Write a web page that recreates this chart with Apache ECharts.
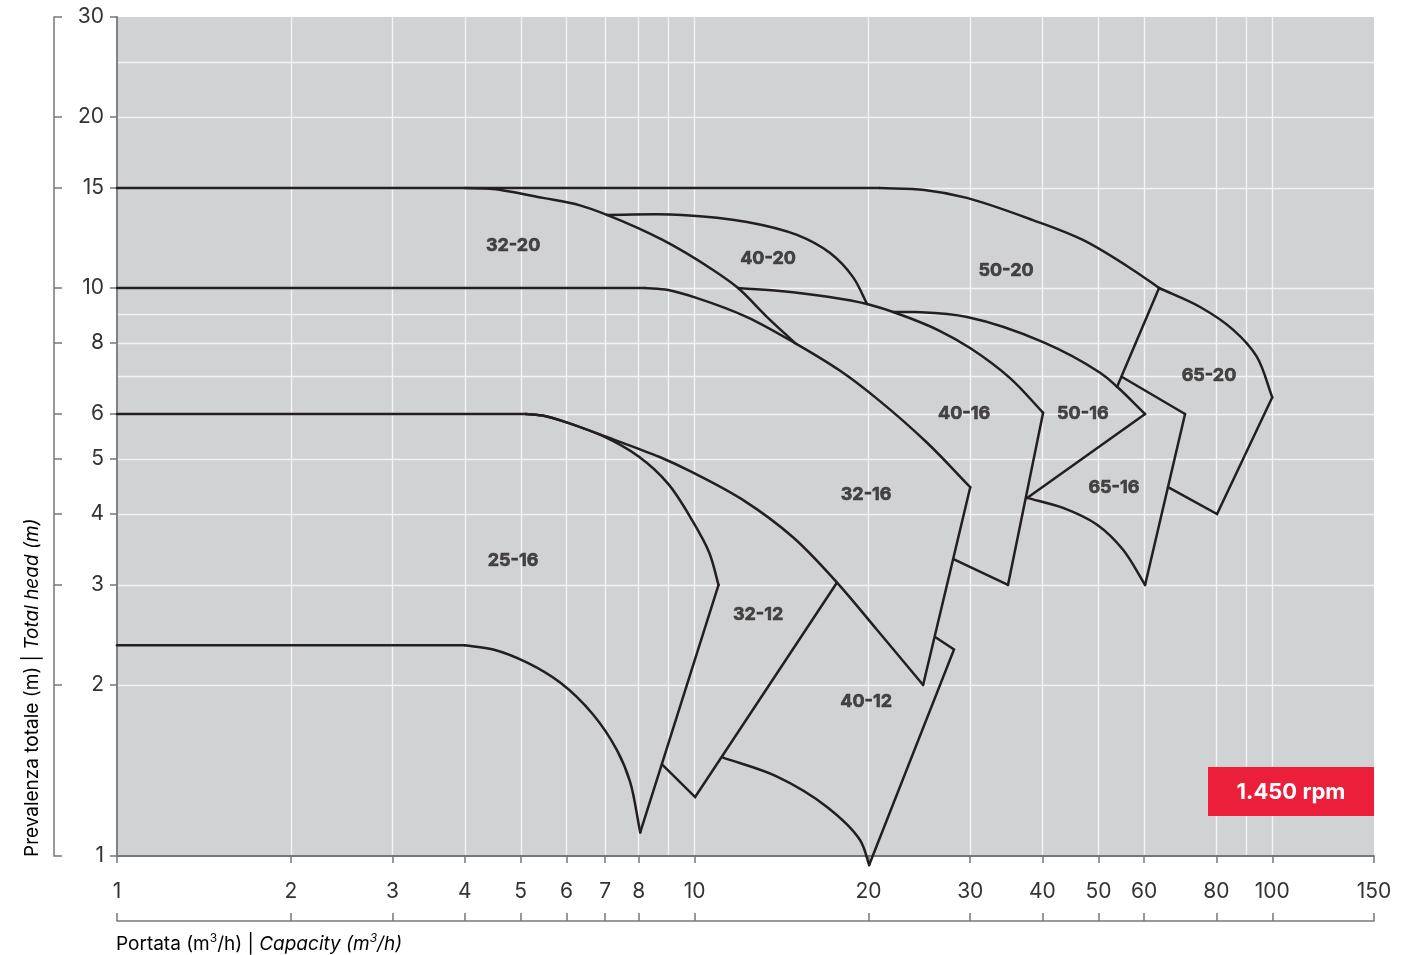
<!DOCTYPE html>
<html><head><meta charset="utf-8">
<script src="https://cdn.jsdelivr.net/npm/echarts@6/dist/echarts.min.js"></script>
<style>html,body{margin:0;padding:0;background:#fff}#c{width:1417px;height:955px}</style>
</head><body><div id="c"></div>
<script>
// ---- axis values ----
const xTicks = [1,2,3,4,5,6,7,8,10,20,30,40,50,60,80,100,150];
const yTicks = [1,2,3,4,5,6,8,10,15,20,30];
const xGrid = [2,3,4,5,6,7,8,9,10,20,30,40,50,60,80,90,100];
const yGrid = [2,3,4,5,6,7,8,9,10,15,20,25];

// ---- straight lines (flow m3/h, head m) ----
const flat15 = [[1,15],[20.9,15]];
const flat10 = [[1,10],[8.2,10]];
const flat6 = [[1,6],[5.1,6]];
const flat235 = [[1,2.35],[4,2.35]];
const edge32_16 = [[30,4.46],[24.86,2.0]];
const edge40_16 = [[40.11,6.03],[34.87,3.0]];
const low40_16 = [[28.12,3.33],[34.87,3.0]];
const edge50_16 = [[60.23,6.0],[37.63,4.27]];
const top65_16 = [[54.95,6.97],[70.63,6.0]];
const edge65_16 = [[70.63,6.0],[60.23,3.0]];
const edge50_20 = [[63.68,10.0],[53.87,6.70]];
const edge65_20 = [[100,6.42],[80.24,4.0],[66.0,4.46]];
const edge25_16 = [[11.0,3.0],[8.05,1.10]];
const edge32_12 = [[8.78,1.45],[10.02,1.27],[17.64,3.03]];
const edge40_12 = [[26.08,2.43],[28.12,2.31],[20.05,0.964]];

// ---- curves (flow m3/h, head m) ----
const curve50_20 = [[20.9,15],[25.0,14.88],[29.6,14.41],[38.5,13.17],[47.0,12.15],[57.4,10.76],[63.68,10.0]];
const curve65_20 = [[63.68,10.0],[75,9.26],[85.6,8.44],[94.0,7.57],[100,6.42]];
const curve32_20 = [[4,15],[4.48,14.94],[5.46,14.41],[6.33,13.98],[7.05,13.45],[8.8,12.15],[10.76,10.76],[11.89,10.0],[13.35,8.89],[14.92,8.0]];
const curve40_20 = [[7.05,13.45],[9.5,13.45],[12.32,13.07],[15.04,12.40],[17.16,11.52],[18.8,10.45],[19.89,9.37]];
const curve32_16 = [[8.2,10],[9.0,9.92],[10.1,9.6],[12.32,8.89],[14.92,8.0],[17.86,7.15],[20.7,6.38],[25.26,5.34],[30,4.46]];
const curve40_16 = [[11.89,10.0],[14.05,9.88],[17.0,9.65],[19.89,9.37],[22.68,8.98],[26.6,8.40],[29.98,7.84],[35.16,6.94],[40.11,6.03]];
const curve50_16 = [[22.06,9.07],[24.07,9.07],[29.62,8.89],[40.11,8.03],[50.34,7.09],[53.87,6.70],[60.23,6.0]];
const curve65_16 = [[37.63,4.27],[43.43,4.10],[49.74,3.83],[55.17,3.46],[60.23,3.0]];
const curve25_16 = [[5.1,6],[5.5,5.95],[6.0,5.8],[6.9,5.5],[8.0,5.05],[9.0,4.52],[9.9,3.9],[10.6,3.42],[11.0,3.0]];
const curve32_12 = [[5.1,6],[5.5,5.95],[6.0,5.8],[7.1,5.45],[8.7,5.04],[9.9,4.74],[12.1,4.24],[14.8,3.64],[17.64,3.03],[20.7,2.5],[24.86,2.0]];
const curve25_16low = [[4.0,2.35],[4.48,2.31],[5.13,2.19],[5.85,2.02],[6.67,1.775],[7.34,1.535],[7.73,1.352],[8.05,1.10]];
const curve40_12 = [[11.2,1.49],[13.89,1.38],[16.95,1.22],[19.33,1.067],[20.05,0.964]];

// ---- region labels ----
const labelNames = ['32-20','40-20','50-20','65-20','40-16','50-16','65-16','32-16','25-16','32-12','40-12'];
const labelPos = [[4.85,11.86],[13.4,11.25],[34.6,10.71],[77.7,7.0],[29.27,6.0],[47.0,6.0],[53.2,4.45],[19.81,4.32],[4.85,3.31],[12.88,2.66],[19.81,1.87]];

const FONT = 'Inter, "Liberation Sans", sans-serif';
const INK = '#231F20';
const AXIS = '#76777a';
const LW = 2.5;

const straight = [flat15,flat10,flat6,flat235,edge32_16,edge40_16,low40_16,edge50_16,top65_16,edge65_16,edge50_20,edge65_20,edge25_16,edge32_12,edge40_12];
const curved = [curve50_20,curve65_20,curve32_20,curve40_20,curve32_16,curve40_16,curve50_16,curve65_16,curve25_16,curve32_12,curve25_16low,curve40_12];

// centripetal Catmull-Rom through the projected data points
function splinePath(P) {
  const n = P.length;
  const get = i => {
    if (i < 0) return [2*P[0][0]-P[1][0], 2*P[0][1]-P[1][1]];
    if (i >= n) return [2*P[n-1][0]-P[n-2][0], 2*P[n-1][1]-P[n-2][1]];
    return P[i];
  };
  const dist = (a,b) => Math.max(1e-6, Math.pow(Math.hypot(a[0]-b[0], a[1]-b[1]), 0.5));
  let d = 'M' + P[0][0] + ' ' + P[0][1];
  for (let i = 0; i < n-1; i++) {
    const p0 = get(i-1), p1 = P[i], p2 = P[i+1], p3 = get(i+2);
    const d1 = dist(p0,p1), d2 = dist(p1,p2), d3 = dist(p2,p3);
    const c1 = [0,1].map(k => (d1*d1*p2[k] - d2*d2*p0[k] + (2*d1*d1 + 3*d1*d2 + d2*d2)*p1[k]) / (3*d1*(d1+d2)));
    const c2 = [0,1].map(k => (d3*d3*p1[k] - d2*d2*p3[k] + (2*d3*d3 + 3*d3*d2 + d2*d2)*p2[k]) / (3*d3*(d3+d2)));
    d += ' C' + c1[0] + ' ' + c1[1] + ' ' + c2[0] + ' ' + c2[1] + ' ' + p2[0] + ' ' + p2[1];
  }
  return d;
}

const series = [];
straight.forEach(d => series.push({type:'line', data:d, xAxisIndex:0, yAxisIndex:0, symbol:'none', smooth:false, clip:false, silent:true,
  lineStyle:{color:INK, width:LW, cap:'round', join:'miter'}, z:5}));
curved.forEach(pts => series.push({type:'custom', data:pts, xAxisIndex:0, yAxisIndex:0, silent:true, clip:false, z:5,
  renderItem: function(params, api) {
    if (params.dataIndex !== 0) return null;
    const P = pts.map(p => api.coord(p));
    return {type:'path', shape:{pathData: splinePath(P)}, style:{stroke:INK, fill:null, lineWidth:LW, lineCap:'round', lineJoin:'round'}};
  }}));
series.push({type:'scatter', xAxisIndex:0, yAxisIndex:0, symbolSize:0, silent:true, z:6,
  data: labelNames.map((n,i)=>({name:n, value:labelPos[i]})),
  label:{show:true, position:'inside', formatter:'{b}', fontFamily:FONT, fontWeight:'bold', fontSize:18, color:INK,
    textBorderColor:INK, textBorderWidth:0.6}});

const logX = {type:'log', logBase:10, min:1, max:150, gridIndex:0};
const logY = {type:'log', logBase:10, min:1, max:30, gridIndex:0};

const option = {
  animation:false,
  backgroundColor:'#ffffff',
  grid:{left:117, right:43, top:17, bottom:99, show:true, backgroundColor:'#D1D2D4', borderWidth:0, containLabel:false, outerBoundsMode:'none'},
  xAxis:[
    Object.assign({}, logX, {position:'bottom', offset:0,
      axisLine:{show:true, lineStyle:{color:AXIS, width:1.8}},
      axisTick:{show:false, customValues:xGrid},
      axisLabel:{show:false},
      splitLine:{show:true, lineStyle:{color:'#F3F3F3', width:1.4}}}),
    Object.assign({}, logX, {position:'bottom', offset:0,
      axisLine:{show:false},
      axisTick:{show:true, customValues:xTicks, length:7, lineStyle:{color:AXIS, width:1.5}},
      axisLabel:{show:true, customValues:xTicks, margin:25, fontFamily:FONT, fontSize:21, color:'#333', showMinLabel:true, showMaxLabel:true},
      splitLine:{show:false}}),
    Object.assign({}, logX, {position:'bottom', offset:65,
      axisLine:{show:true, lineStyle:{color:AXIS, width:1.5}},
      axisTick:{show:true, inside:true, customValues:xTicks, length:8, lineStyle:{color:AXIS, width:1.5}},
      axisLabel:{show:false},
      splitLine:{show:false}})
  ],
  yAxis:[
    Object.assign({}, logY, {position:'left', offset:0,
      axisLine:{show:true, lineStyle:{color:AXIS, width:1.8}},
      axisTick:{show:false, customValues:yGrid},
      axisLabel:{show:false},
      splitLine:{show:true, lineStyle:{color:'#F3F3F3', width:1.4}}}),
    Object.assign({}, logY, {position:'left', offset:0,
      axisLine:{show:false},
      axisTick:{show:true, customValues:yTicks, length:7, lineStyle:{color:AXIS, width:1.5}},
      axisLabel:{show:true, customValues:yTicks, margin:13, fontFamily:FONT, fontSize:21, color:'#333', showMinLabel:true, showMaxLabel:true},
      splitLine:{show:false}}),
    Object.assign({}, logY, {position:'left', offset:63,
      axisLine:{show:true, lineStyle:{color:AXIS, width:1.5}},
      axisTick:{show:true, inside:true, customValues:yTicks, length:8, lineStyle:{color:AXIS, width:1.5}},
      axisLabel:{show:false},
      splitLine:{show:false}})
  ],
  graphic:[
    {type:'text', x:116, y:944, silent:true, style:{
      text:'{a|Portata (m}{s|3}{a|/h) | }{i|Capacity (m}{si|3}{i|/h)}',
      verticalAlign:'middle', align:'left',
      rich:{
        a:{fontFamily:FONT, fontSize:19, color:'#333', lineHeight:24},
        i:{fontFamily:FONT, fontSize:19, fontStyle:'italic', color:'#333', lineHeight:24},
        s:{fontFamily:FONT, fontSize:12, color:'#333', lineHeight:15, verticalAlign:'top'},
        si:{fontFamily:FONT, fontSize:12, fontStyle:'italic', color:'#333', lineHeight:15, verticalAlign:'top'}
      }}},
    {type:'text', x:32, y:857, rotation:Math.PI/2, silent:true, style:{
      text:'{a|Prevalenza totale (m) | }{i|Total head (m)}',
      verticalAlign:'middle', align:'left',
      rich:{
        a:{fontFamily:FONT, fontSize:19, color:'#333'},
        i:{fontFamily:FONT, fontSize:19, fontStyle:'italic', color:'#333'}
      }}},
    {type:'rect', silent:true, shape:{x:1208, y:767, width:166, height:49}, style:{fill:'#EC1F3A'}, z:10},
    {type:'text', silent:true, x:1291, y:792, z:11, style:{text:'1.450 rpm', fill:'#ffffff', font:'bold 22px '+FONT, align:'center', verticalAlign:'middle'}}
  ],
  series: series
};
const chart = echarts.init(document.getElementById('c'), null, {renderer:'canvas'});
chart.setOption(option);
</script>
</body></html>
